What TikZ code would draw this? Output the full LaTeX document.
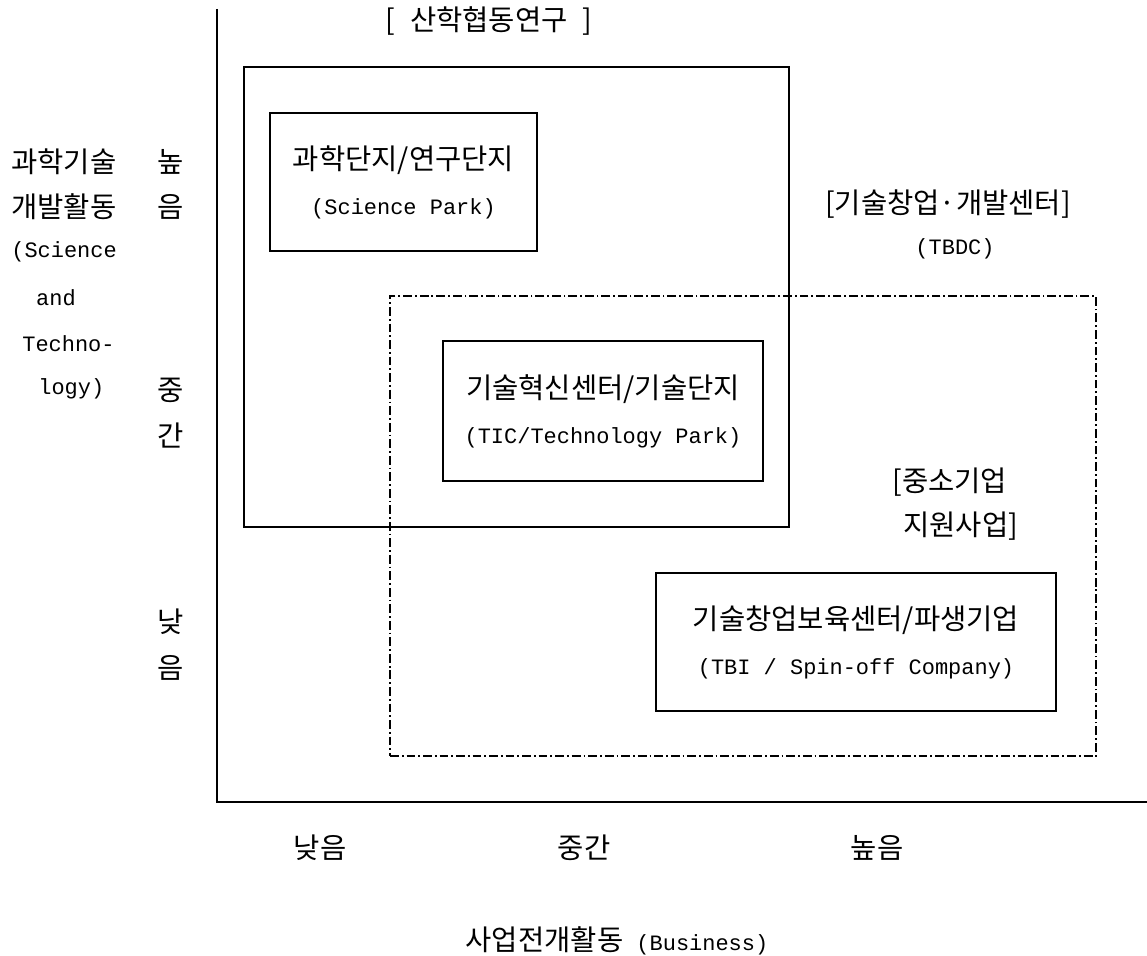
\documentclass[tikz,border=0pt]{standalone}
\usepackage{fontspec}
\setmainfont{Liberation Mono}
\newfontfamily\kr[Scale=1.3]{Noto Sans CJK KR}
\begin{document}
\begin{tikzpicture}[x=0.02cm,y=-0.02cm,
  lbl/.style={inner sep=0pt, font=\fontsize{12.5}{25.6}\selectfont},
  boxnode/.style={draw, line width=1.1pt, inner sep=0pt, align=center, font=\fontsize{12.5}{25.6}\selectfont},
  dashboxnode/.style={draw, line width=0.8pt, inner sep=0pt, dash pattern=on 5pt off 1.7pt on 1pt off 1.7pt},
  axisline/.style={line width=1.3pt}]
\useasboundingbox (0,0) rectangle (1147,956);
% axes
\coordinate (otop) at (217,9);
\coordinate (origin) at (217,802);
\coordinate (xend) at (1147,802);
\draw[axisline] (otop) -- (origin) -- (xend);
% boxes
\node[dashboxnode, minimum width=14.12cm, minimum height=9.2cm] (smebox) at (743,526) {};
\node[boxnode, minimum width=10.9cm, minimum height=9.2cm] (uibox) at (516.5,297) {};
\node[boxnode, minimum width=5.34cm, minimum height=2.76cm] (sp) at (403.5,182) {{\kr 과학단지/연구단지}\\(Science Park)};
\node[boxnode, minimum width=6.4cm, minimum height=2.8cm] (tic) at (603,411) {{\kr 기술혁신센터/기술단지}\\(TIC/Technology Park)};
\node[boxnode, minimum width=8cm, minimum height=2.76cm] (tbi) at (856,642) {{\kr 기술창업보육센터/파생기업}\\(TBI / Spin-off Company)};
% group labels
\node[lbl] (uilabel) at (489,21) {\kr [\hspace{0.3cm}산학협동연구\hspace{0.3cm}]};
\node[lbl] (tbdc1) at (948,204) {\kr [기술창업·개발센터]};
\node[lbl] (tbdc2) at (955,249) {(TBDC)};
\node[lbl, anchor=west] (sme1) at (892,482) {\kr [중소기업};
\node[lbl, anchor=west] (sme2) at (903,526) {\kr 지원사업]};
% y axis title
\node[lbl, anchor=west] (yt1) at (11,162) {\kr 과학기술};
\node[lbl, anchor=west] (yt2) at (11,207) {\kr 개발활동};
\node[lbl, anchor=west] (yt3) at (11,252) {(Science};
\node[lbl] (yt4) at (56,298) {and};
\node[lbl, anchor=west] (yt5) at (22,344) {Techno-};
\node[lbl, anchor=west] (yt6) at (38,389) {logy)};
% y axis levels
\node[lbl] (yh1) at (171,162) {\kr 높};
\node[lbl] (yh2) at (171,207) {\kr 음};
\node[lbl] (ym1) at (171,390) {\kr 중};
\node[lbl] (ym2) at (171,436) {\kr 간};
\node[lbl] (yl1) at (171,622) {\kr 낮};
\node[lbl] (yl2) at (171,668) {\kr 음};
% x axis levels
\node[lbl] (xl) at (320,848) {\kr 낮음};
\node[lbl] (xm) at (584,848) {\kr 중간};
\node[lbl] (xh) at (877,848) {\kr 높음};
\node[lbl] (xt) at (617,941) {{\kr 사업전개활동} (Business)};
\end{tikzpicture}
\end{document}
